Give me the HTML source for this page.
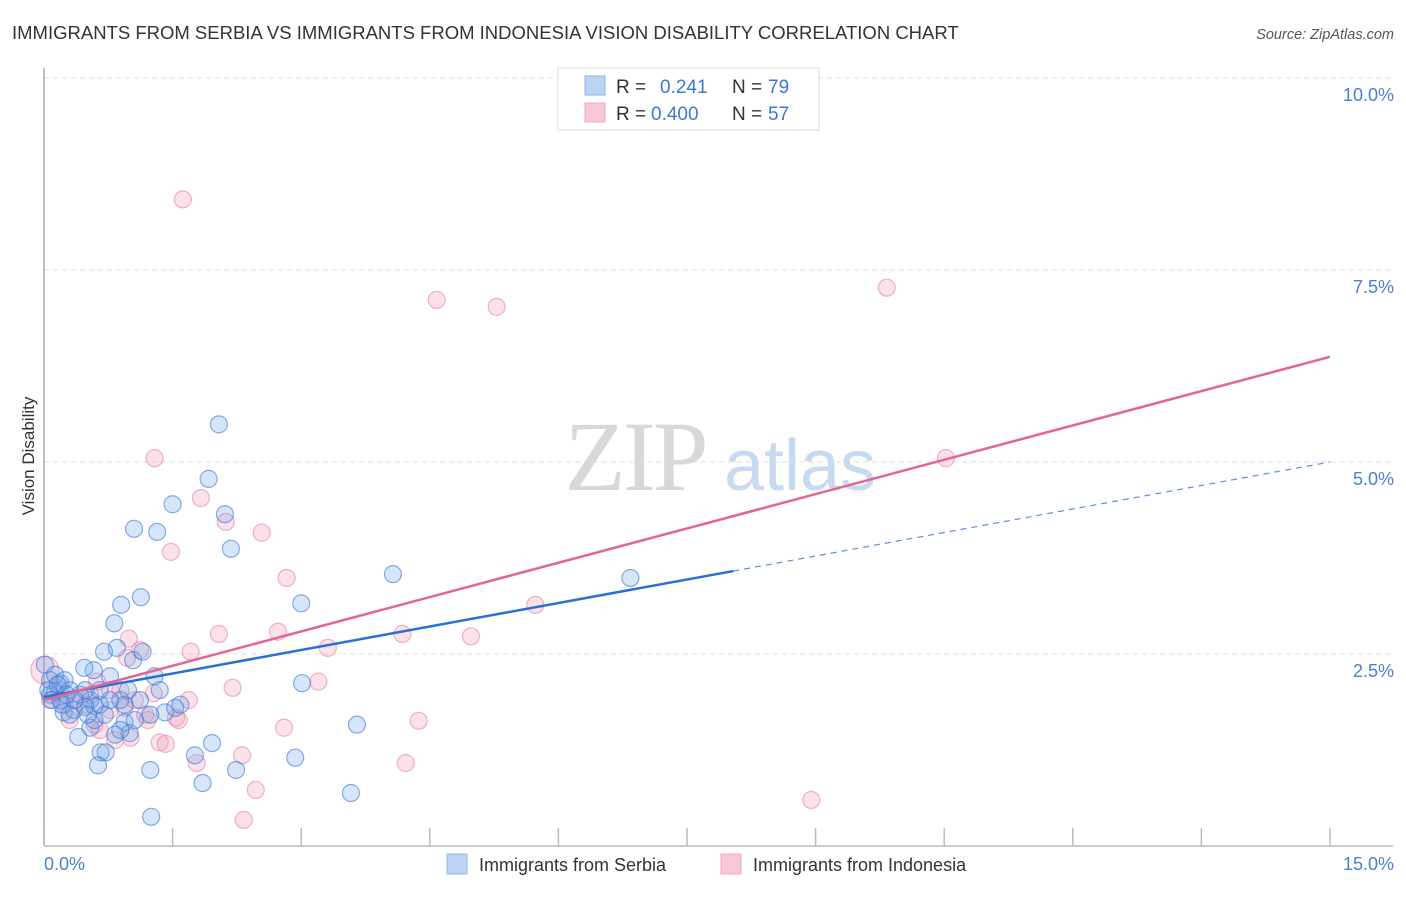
<!DOCTYPE html>
<html><head><meta charset="utf-8"><style>
body{margin:0;background:#fff;font-family:"Liberation Sans",sans-serif;}
svg text{font-family:"Liberation Sans",sans-serif;}
</style></head><body>
<svg id="chart" width="1406" height="892" xmlns="http://www.w3.org/2000/svg">
<text x="12" y="39" font-size="18.5" fill="#333">IMMIGRANTS FROM SERBIA VS IMMIGRANTS FROM INDONESIA VISION DISABILITY CORRELATION CHART</text>
<text x="1394" y="39" font-size="14.5" fill="#555" font-style="italic" text-anchor="end">Source: ZipAtlas.com</text>
<text transform="translate(34,456) rotate(-90)" font-size="17" fill="#333" text-anchor="middle">Vision Disability</text>
<g id="grid"></g>
<g>
<text x="635" y="490" font-size="100" fill="#d8d8d8" text-anchor="middle" style="font-family:'Liberation Serif',serif" letter-spacing="-3">ZIP</text>
<text x="800" y="490" font-size="72" fill="#c8daf0" text-anchor="middle">atlas</text>
</g>
<line x1="44" y1="68" x2="44" y2="846" stroke="#aaa" stroke-width="1.5"/>
<line x1="44" y1="846" x2="1393" y2="846" stroke="#bbb" stroke-width="1.5"/>
<g id="ticks"></g>
<g id="pts"></g>
<g id="lines"></g>
<text x="44" y="870" font-size="18" fill="#4a7fd4">0.0%</text>
<text x="1394" y="870" font-size="18" fill="#4a7fd4" text-anchor="end">15.0%</text>
<g>
<rect x="558" y="68" width="261" height="62" fill="#fff" stroke="#ddd"/>
<rect x="585" y="76" width="20" height="19" fill="#bcd4f4" stroke="#8fb4e8"/>
<rect x="585" y="103" width="20" height="19" fill="#f8c8d6" stroke="#f0a8be"/>
<text x="616" y="93" font-size="19" fill="#333">R = </text><text x="660" y="93" font-size="19" fill="#3a78d4">0.241</text>
<text x="732" y="93" font-size="19" fill="#333">N = </text><text x="768" y="93" font-size="19" fill="#3a78d4">79</text>
<text x="616" y="120" font-size="19" fill="#333">R = </text><text x="651" y="120" font-size="19" fill="#3a78d4">0.400</text>
<text x="732" y="120" font-size="19" fill="#333">N = </text><text x="768" y="120" font-size="19" fill="#3a78d4">57</text>
</g>
<g>
<rect x="447" y="854" width="20" height="20" fill="#bcd4f4" stroke="#8fb4e8"/>
<text x="479" y="871" font-size="18" fill="#333">Immigrants from Serbia</text>
<rect x="721" y="854" width="20" height="20" fill="#f8c8d6" stroke="#f0a8be"/>
<text x="753" y="871" font-size="18" fill="#333">Immigrants from Indonesia</text>
</g>
</svg>
<script>
const yTicks=[2.5,5.0,7.5,10.0];
const yTickLabels=["2.5%","5.0%","7.5%","10.0%"];
const xTickVals=[0,1.5,3,4.5,6,7.5,9,10.5,12,13.5,15];
const serbiaX=[2.04,1.92,1.50,2.11,1.05,1.32,2.18,4.07,6.84,1.13,0.90,3.00,0.82,0.70,0.85,1.04,1.15,0.58,0.47,0.77,1.29,3.01,0.07,0.19,0.30,0.13,0.42,0.54,0.65,0.89,0.94,1.12,1.41,1.53,0.23,0.35,0.48,0.59,0.77,3.65,0.94,0.54,0.40,0.83,1.00,1.96,0.66,0.72,1.76,2.93,0.63,1.24,2.24,1.85,3.58,1.25,0.07,0.19,0.01,0.13,0.24,0.36,0.48,0.21,0.30,0.65,0.98,1.35,1.59,1.24,1.06,0.89,0.59,0.05,0.09,0.16,0.26,0.71,0.51];
const serbiaY=[5.49,4.78,4.45,4.32,4.13,4.09,3.87,3.54,3.49,3.24,3.14,3.16,2.90,2.53,2.58,2.42,2.53,2.29,2.32,2.21,2.21,2.12,2.16,2.12,2.03,2.01,1.97,1.90,1.84,1.90,1.84,1.90,1.74,1.80,1.74,1.77,1.81,1.82,1.90,1.58,1.61,1.54,1.42,1.45,1.47,1.34,1.22,1.22,1.18,1.15,1.05,0.99,0.99,0.82,0.69,0.38,1.97,1.90,2.36,2.23,2.16,1.90,2.03,1.84,1.71,2.03,2.03,2.03,1.84,1.71,1.64,1.51,1.64,2.03,1.90,2.10,1.97,1.71,1.71];
const indoX=[1.62,4.58,5.28,9.83,10.52,1.29,1.83,2.12,2.54,1.48,2.83,5.73,4.18,2.04,2.73,4.98,0.99,3.31,1.71,0.97,1.12,3.20,2.20,1.28,1.69,0.62,0.19,0.01,0.36,0.48,0.77,0.94,1.18,1.54,1.57,1.21,0.59,0.65,4.37,2.80,1.01,1.35,1.42,0.83,0.30,2.31,1.78,4.22,2.47,8.95,2.33,0.24,0.07,0.54,0.77,1.06,0.89];
const indoY=[8.42,7.11,7.02,7.27,5.05,5.05,4.53,4.22,4.08,3.83,3.49,3.14,2.76,2.76,2.79,2.73,2.70,2.58,2.53,2.45,2.55,2.14,2.06,1.99,1.90,2.14,2.03,2.29,1.90,1.84,1.77,1.80,1.71,1.67,1.64,1.64,1.58,1.51,1.63,1.54,1.41,1.35,1.33,1.38,1.64,1.18,1.08,1.08,0.73,0.60,0.34,1.84,1.90,1.97,2.03,1.90,2.03];
const serbiaTrend=[1.94,5.0];
const serbiaSolidEnd=8.04;
const indoTrend=[1.90,6.37];

const NS="http://www.w3.org/2000/svg";
const X=v=>44+v*(1286/15);
const Y=v=>846-v*76.8;
function mk(tag,attrs,parent){const e=document.createElementNS(NS,tag);for(const k in attrs)e.setAttribute(k,attrs[k]);parent.appendChild(e);return e;}
const grid=document.getElementById('grid');
yTicks.forEach((t,i)=>{
  const l=mk('line',{x1:44,x2:1393,y1:Y(t),y2:Y(t),stroke:'#ddd','stroke-dasharray':'5,4'},grid);
  
  
  const tx=mk('text',{x:1394,y:Y(t)+23,'font-size':18,fill:'#4a7fd4','text-anchor':'end'},grid);
  tx.textContent=yTickLabels[i];
  
  
});
const ticks=document.getElementById('ticks');
xTickVals.forEach(v=>{
  const l=mk('line',{x1:X(v),x2:X(v),y1:828,y2:846,stroke:'#bbb','stroke-width':1.5},ticks);
  
  
});
const pts=document.getElementById('pts');
indoX.forEach((v,i)=>{
  const r=(v<0.05&&indoY[i]>2.2)?14:8.5;
  const c=mk('circle',{cx:X(v),cy:Y(indoY[i]),r:r,fill:'rgba(242,150,180,0.28)',stroke:'rgba(232,130,165,0.6)','stroke-width':1.2},pts);
  
  
});
serbiaX.forEach((v,i)=>{
  const c=mk('circle',{cx:X(v),cy:Y(serbiaY[i]),r:8.5,fill:'rgba(110,160,230,0.28)',stroke:'rgba(60,120,215,0.6)','stroke-width':1.2},pts);
  
  
});
const lines=document.getElementById('lines');
const sy=x=>serbiaTrend[0]+(serbiaTrend[1]-serbiaTrend[0])*x/15;
const a=mk('line',{x1:X(0),y1:Y(sy(0)),x2:X(serbiaSolidEnd),y2:Y(sy(serbiaSolidEnd)),stroke:'#2a6fd6','stroke-width':2.5},lines);


const b=mk('line',{x1:X(serbiaSolidEnd),y1:Y(sy(serbiaSolidEnd)),x2:X(15),y2:Y(sy(15)),stroke:'#5a8fdc','stroke-width':1.2,'stroke-dasharray':'6,5'},lines);


const c=mk('line',{x1:X(0),y1:Y(indoTrend[0]),x2:X(15),y2:Y(indoTrend[1]),stroke:'#e46592','stroke-width':2.5},lines);


</script>
</body></html>
